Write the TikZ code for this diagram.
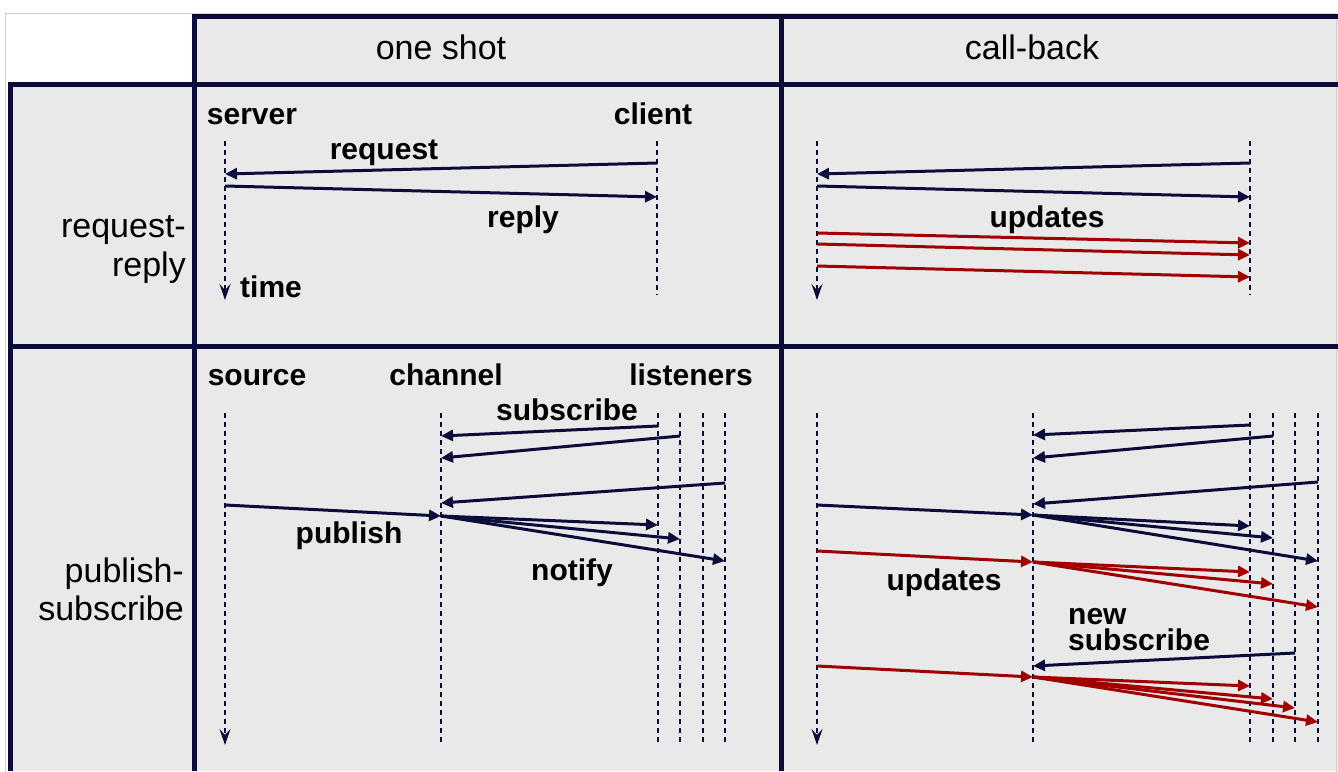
\documentclass[tikz,border=0pt]{standalone}
\usepackage{fontspec}
\setmainfont{Liberation Sans}
\usetikzlibrary{arrows.meta}

\definecolor{navy}{RGB}{12,12,58}
\definecolor{cellgray}{RGB}{233,233,233}
\definecolor{frame}{RGB}{205,205,210}
\definecolor{updred}{RGB}{160,0,0}

\tikzset{
  gridline/.style={line width=5pt, draw=navy},
  life/.style={line width=1.8pt, draw=navy, dash pattern=on 5pt off 4pt},
  timeline/.style={life, -{Stealth[length=16pt,width=11pt,inset=6pt]}},
  msg/.style={line width=3pt, color=navy, -{Triangle[length=12pt,width=11pt]}},
  upd/.style={msg, color=updred},
  head/.style={font=\fontsize{34}{40}\selectfont, inner sep=0pt, anchor=base},
  role/.style={font=\bfseries\fontsize{30}{30}\selectfont, inner sep=0pt, anchor=base},
  rowlab/.style={font=\fontsize{34}{39}\selectfont, anchor=base east, inner sep=0pt},
}

% message arrow between two named end points
\newcommand\msgline[4]{%
  \coordinate (#2-s) at (#3);
  \coordinate (#2-e) at (#4);
  \draw[#1] (#2-s) -- (#2-e);}
% dashed lifeline between two named end points
\newcommand\lifeline[4]{%
  \coordinate (#2-t) at (#3);
  \coordinate (#2-b) at (#4);
  \draw[#1] (#2-t) -- (#2-b);}

\begin{document}
\begin{tikzpicture}[x=1pt,y=-1pt]
\useasboundingbox (0,0) rectangle (1338,771);

% table background
\fill[cellgray] (194,15) rectangle (1338,84);
\fill[cellgray] (10,84) rectangle (1338,771);
\draw[frame, line width=0.8pt] (5,13) rectangle (1336,780);

% table rules
\draw[gridline] (192,16) -- (1338,16);
\draw[gridline] (8,84) -- (1338,84);
\draw[gridline] (8,346) -- (1338,346);
\draw[gridline] (10,82) -- (10,771);
\draw[gridline] (194,14) -- (194,771);
\draw[gridline] (781,14) -- (781,771);

% column and row headings
\node[head] (hone) at (441,59) {one shot};
\node[head] (hcall) at (1032,59) {call-back};
\node[rowlab] (rrlab1) at (186,237) {request-};
\node[rowlab] (rrlab2) at (186,276) {reply};
\node[rowlab] (pslab1) at (184,582) {publish-};
\node[rowlab] (pslab2) at (184,620) {subscribe};

% ---------- request-reply, one shot ----------
\node[role] (server) at (252,124) {server};
\node[role] (client) at (653,124) {client};
\lifeline{timeline}{srvl}{225,141}{225,300}
\lifeline{life}{clil}{657,141}{657,295}
\node[role, anchor=base west] (time) at (240,297) {time};
\msgline{msg}{req}{657,163}{225,174}
\msgline{msg}{rep}{225,186}{657,197}
\node[role] (reqlab) at (384,159) {request};
\node[role] (replab) at (523,227) {reply};

% ---------- request-reply, call-back ----------
\lifeline{timeline}{cbsl}{817,141}{817,300}
\lifeline{life}{cbcl}{1250,141}{1250,295}
\msgline{msg}{cbreq}{1250,163}{817,174}
\msgline{msg}{cbrep}{817,186}{1250,197}
\node[role] (cbupd) at (1047,227) {updates};
\msgline{upd}{cbu1}{817,233}{1250,243}
\msgline{upd}{cbu2}{817,244}{1250,255}
\msgline{upd}{cbu3}{817,266}{1250,277}

% ---------- publish-subscribe, one shot ----------
\node[role] (source) at (257,385) {source};
\node[role] (channel) at (446,385) {channel};
\node[role] (listeners) at (691,385) {listeners};
\lifeline{timeline}{psrc}{225,413}{225,745}
\lifeline{life}{pch}{441,413}{441,742}
\lifeline{life}{pl1}{658,413}{658,742}
\lifeline{life}{pl2}{680,413}{680,742}
\lifeline{life}{pl3}{703,413}{703,742}
\lifeline{life}{pl4}{725,413}{725,742}
\node[role] (sublab) at (567,420) {subscribe};
\msgline{msg}{ps1}{658,426}{441,436}
\msgline{msg}{ps2}{680,436}{441,458}
\msgline{msg}{ps3}{725,483}{441,503}
\msgline{msg}{ppub}{225,505}{441,516}
\node[role] (publab) at (349,543) {publish};
\msgline{msg}{pn1}{441,516}{658,525}
\msgline{msg}{pn2}{441,516}{680,539}
\msgline{msg}{pn3}{441,516}{725,561}
\node[role] (notlab) at (572,580) {notify};

% ---------- publish-subscribe, call-back ----------
\lifeline{timeline}{csrc}{817,413}{817,745}
\lifeline{life}{cch}{1033,413}{1033,742}
\lifeline{life}{cl1}{1250,413}{1250,742}
\lifeline{life}{cl2}{1273,413}{1273,742}
\lifeline{life}{cl3}{1295,413}{1295,742}
\lifeline{life}{cl4}{1318,413}{1318,742}
\msgline{msg}{cs1}{1250,425}{1033,435}
\msgline{msg}{cs2}{1273,436}{1033,458}
\msgline{msg}{cs3}{1318,482}{1033,504}
\msgline{msg}{cpub}{817,505}{1033,515}
\msgline{msg}{cn1}{1033,515}{1250,526}
\msgline{msg}{cn2}{1033,515}{1273,538}
\msgline{msg}{cn3}{1033,515}{1318,561}
\msgline{upd}{cu}{817,551}{1033,562}
\msgline{upd}{cu1}{1033,562}{1250,572}
\msgline{upd}{cu2}{1033,562}{1273,584}
\msgline{upd}{cu3}{1033,562}{1318,607}
\node[role] (cupdlab) at (944,590) {updates};
\node[role, anchor=base west] (newlab) at (1068,624) {new};
\node[role, anchor=base west] (nsublab) at (1068,650) {subscribe};
\msgline{msg}{cns}{1295,653}{1033,666}
\msgline{upd}{cv}{817,666}{1033,677}
\msgline{upd}{cv1}{1033,677}{1250,686}
\msgline{upd}{cv2}{1033,677}{1273,699}
\msgline{upd}{cv3}{1033,677}{1295,708}
\msgline{upd}{cv4}{1033,677}{1318,722}
\end{tikzpicture}
\end{document}
